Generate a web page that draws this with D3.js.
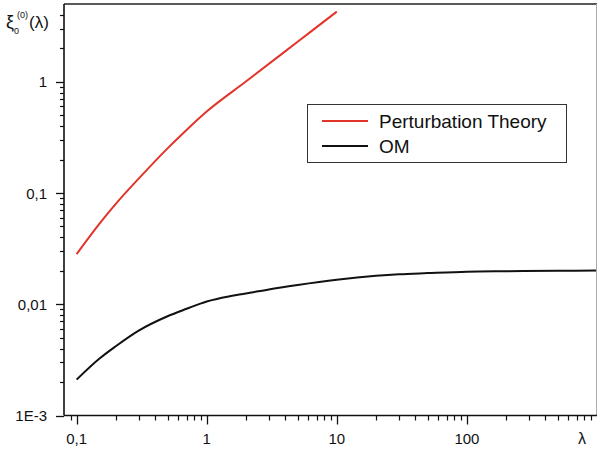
<!DOCTYPE html>
<html><head><meta charset="utf-8">
<script src="https://cdn.jsdelivr.net/npm/d3@7"></script>
<style>body{margin:0;background:#fff}svg{display:block}text{font-family:"Liberation Sans",Arial,sans-serif}</style>
</head><body><svg id="c" width="597" height="452"></svg>
<script>
const lambdaPT = [0.1,0.15,0.2,0.3,0.5,0.7,1,2,5,10];
const xiPT     = [0.0282,0.053,0.0798,0.1346,0.252,0.369,0.54,1.005,2.29,4.27];
const lambdaOM = [0.1,0.15,0.2,0.3,0.5,0.7,1,1.5,2,3,5,10,20,30,50,100,200,500,1000];
const xiOM     = [0.0021,0.00325,0.00419,0.00579,0.0078,0.0091,0.0106,0.0118,0.01248,0.0136,0.0149,0.0166,0.0180,0.0186,0.01905,0.0196,0.0198,0.0200,0.0201];
const xMajor = [0.1,1,10,100];
const xMajorLabels = ["0,1","1","10","100"];
const yMajor = [0.001,0.01,0.1,1];
const yMajorLabels = ["1E-3","0,01","0,1","1"];
const seriesNames = ["Perturbation Theory","OM"];
const seriesColors = ["#e3342a","#111111"];

const svg = d3.select("#c");
const L=64, R=597, T=4, B=415.5;
const x = d3.scaleLog().domain([0.08,1000]).range([L,R]);
const y = d3.scaleLog().domain([0.001,5]).range([B,T]);

function minors(lo,hi,dLo,dHi){const out=[];for(let k=lo;k<=hi;k++)for(let m=2;m<=9;m++){const v=m*Math.pow(10,k);if(v>dLo*1.0001&&v<dHi*0.9999)out.push(v);}return out;}
const xMinor = minors(-2,2,0.08,1000);
const yMinor = minors(-3,0,0.001,5);

// lines
const line = d3.line().x(d=>x(d[0])).y(d=>y(d[1])).curve(d3.curveMonotoneX);
const dataPT = lambdaPT.map((l,i)=>[l,xiPT[i]]);
const dataOM = lambdaOM.map((l,i)=>[l,xiOM[i]]);
svg.append("path").attr("d",line(dataPT)).attr("fill","none").attr("stroke",seriesColors[0]).attr("stroke-width",2);
svg.append("path").attr("d",line(dataOM)).attr("fill","none").attr("stroke",seriesColors[1]).attr("stroke-width",2);

// frame top/right
svg.append("line").attr("x1",L).attr("x2",R).attr("y1",T).attr("y2",T).attr("stroke","#222").attr("stroke-width",1.6);
svg.append("line").attr("x1",596.5).attr("x2",596.5).attr("y1",T).attr("y2",B).attr("stroke","#aaa").attr("stroke-width",1);

// x axis
const gx = svg.append("g");
gx.append("line").attr("x1",L).attr("x2",R).attr("y1",B).attr("y2",B).attr("stroke","#111").attr("stroke-width",1.6);
gx.selectAll("line.mn").data(xMinor).join("line").attr("class","mn")
  .attr("x1",d=>Math.round(x(d))+0.5).attr("x2",d=>Math.round(x(d))+0.5).attr("y1",B).attr("y2",B+5).attr("stroke","#111").attr("stroke-width",1.2);
gx.selectAll("line.mj").data(xMajor).join("line").attr("class","mj")
  .attr("x1",d=>Math.round(x(d))+0.5).attr("x2",d=>Math.round(x(d))+0.5).attr("y1",B).attr("y2",B+9).attr("stroke","#111").attr("stroke-width",1.3);
gx.selectAll("text").data(xMajor).join("text").attr("x",d=>x(d)).attr("y",444).attr("text-anchor","middle")
  .attr("font-size",15).attr("fill","#111").text((d,i)=>xMajorLabels[i]);

// y axis
const gy = svg.append("g");
gy.append("line").attr("x1",L).attr("x2",L).attr("y1",T).attr("y2",B).attr("stroke","#111").attr("stroke-width",1.6);
gy.selectAll("line.mn").data(yMinor).join("line").attr("class","mn")
  .attr("x1",L).attr("x2",L-4).attr("y1",d=>Math.round(y(d))+0.5).attr("y2",d=>Math.round(y(d))+0.5).attr("stroke","#111").attr("stroke-width",1.2);
gy.selectAll("line.mj").data(yMajor).join("line").attr("class","mj")
  .attr("x1",L).attr("x2",L-8).attr("y1",d=>Math.round(y(d))+0.5).attr("y2",d=>Math.round(y(d))+0.5).attr("stroke","#111").attr("stroke-width",1.3);
gy.selectAll("text").data(yMajor).join("text").attr("x",47).attr("y",d=>y(d)+5.5).attr("text-anchor","end")
  .attr("font-size",15).attr("fill","#111").text((d,i)=>yMajorLabels[i]);

// axis titles
svg.append("text").attr("x",582).attr("y",444).attr("text-anchor","middle").attr("font-size",16).attr("fill","#111").text("λ");
const yt = svg.append("g").attr("fill","#111");
yt.append("text").attr("x",6).attr("y",28).attr("font-size",18).text("ξ");
yt.append("text").attr("x",14).attr("y",34).attr("font-size",9).text("0");
yt.append("text").attr("x",17).attr("y",18).attr("font-size",9).text("(0)");
yt.append("text").attr("x",29).attr("y",28).attr("font-size",17).text("(λ)");

// legend
const lg = svg.append("g");
lg.append("rect").attr("x",307.5).attr("y",104.5).attr("width",259).attr("height",58).attr("fill","#fff").attr("stroke","#333").attr("stroke-width",1);
seriesNames.forEach((n,i)=>{
  const yy = 121 + i*25;
  lg.append("line").attr("x1",322).attr("x2",368).attr("y1",yy).attr("y2",yy).attr("stroke",seriesColors[i]).attr("stroke-width",2);
  lg.append("text").attr("x",379).attr("y",yy+7).attr("font-size",19).attr("fill","#111").text(n);
});
</script></body></html>
